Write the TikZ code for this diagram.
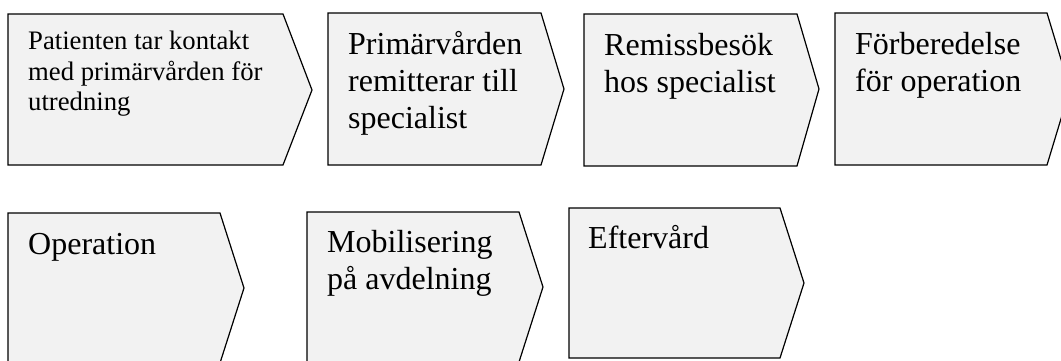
\documentclass[tikz,border=0pt]{standalone}
\usepackage{fontspec}
\setmainfont{Liberation Serif}
\begin{document}
\begin{tikzpicture}[x=1pt,y=-1pt,
  stepshape/.style={draw=black,fill=boxgray,line width=1.2pt,line join=miter},
  bigtext/.style={anchor=north west,inner sep=0pt,align=left,font=\fontsize{32}{37}\selectfont},
  smalltext/.style={anchor=north west,inner sep=0pt,align=left,font=\fontsize{26.7}{30.5}\selectfont}]
\definecolor{boxgray}{HTML}{F2F2F2}
\useasboundingbox (0,0) rectangle (1061,360);
% row 1
\draw[stepshape] (8,14) -- (283,14) -- (312,90) -- (283,165) -- (8,165) -- cycle;
\draw[stepshape] (328,13) -- (541,13) -- (564,89) -- (541,165) -- (328,165) -- cycle;
\draw[stepshape] (584,14) -- (797,14) -- (819,89) -- (797,166) -- (584,166) -- cycle;
\draw[stepshape] (835,13) -- (1047,13) -- (1070,89) -- (1047,165) -- (835,165) -- cycle;
% row 2
\draw[stepshape] (8,213) -- (220,213) -- (244,288) -- (220,363) -- (8,363) -- cycle;
\draw[stepshape] (307,212) -- (519,212) -- (543,287) -- (519,362) -- (307,362) -- cycle;
\draw[stepshape] (569,208) -- (780,208) -- (804,283) -- (780,358) -- (569,358) -- cycle;
% texts
\node[smalltext] (t1) at (28,{49.3-21.35}) {\strut Patienten tar kontakt\\med primärvården för\\utredning};
\node[bigtext] (t2) at (348,{54-25.9}) {\strut Primärvården\\remitterar till\\specialist};
\node[bigtext] (t3) at (604,{55-25.9}) {\strut Remissbesök\\hos specialist};
\node[bigtext] (t4) at (855,{54-25.9}) {\strut Förberedelse\\för operation};
\node[bigtext] (t5) at (28,{254-25.9}) {\strut Operation};
\node[bigtext] (t6) at (327,{252-25.9}) {\strut Mobilisering\\på avdelning};
\node[bigtext] (t7) at (588,{248-25.9}) {\strut Eftervård};
\end{tikzpicture}
\end{document}
